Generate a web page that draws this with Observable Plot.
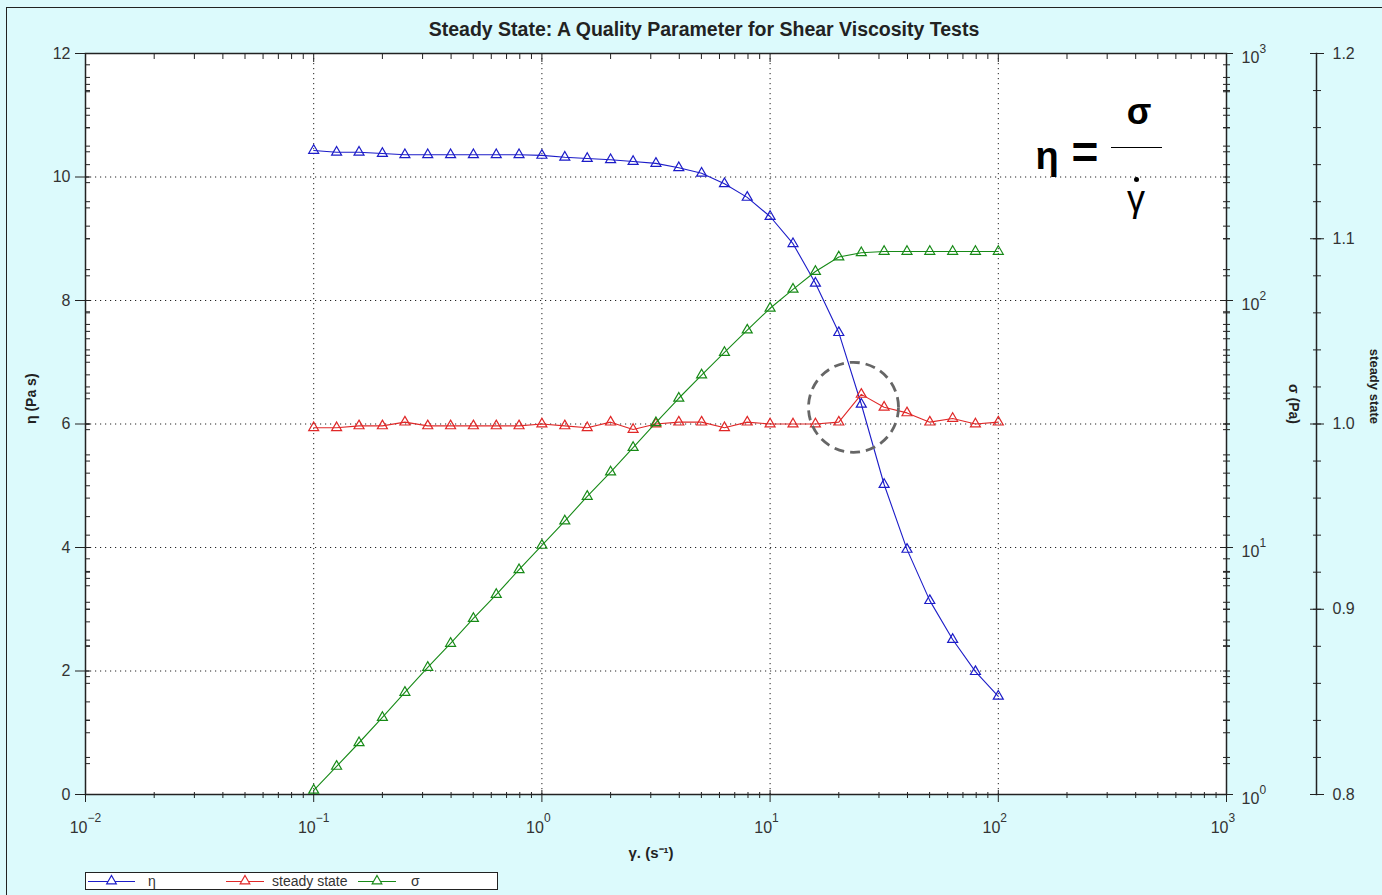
<!DOCTYPE html>
<html><head><meta charset="utf-8">
<script src="https://cdn.jsdelivr.net/npm/d3@7"></script>
<script src="https://cdn.jsdelivr.net/npm/@observablehq/plot@0.6"></script>
<style>
body{margin:0;background:#dcfafc;overflow:hidden;}
#wrap{position:relative;width:1382px;height:895px;overflow:hidden;background:#dcfafc;}
#border{position:absolute;left:6px;top:7px;width:1400px;height:900px;border:1.5px solid #222;pointer-events:none;}
#legend{position:absolute;left:85px;top:872px;width:411px;height:16px;background:#fff;border:1px solid #222;font:14px "Liberation Sans",Arial,sans-serif;color:#333;}
#legend .it{position:absolute;top:0;height:16px;line-height:16px;}
#legend svg{position:absolute;top:0;}
.fx{position:absolute;transform:translate(-50%,-50%);font-family:"Liberation Sans",Arial,sans-serif;color:#000;white-space:nowrap;}
#fbar{position:absolute;left:1111px;top:147px;width:51px;height:0;border-top:1.6px solid #000;}
#fdot{position:absolute;left:1134px;top:177px;width:5px;height:5px;border-radius:50%;background:#000;}
</style></head><body><div id="wrap"><div id="border"></div><div id="chart"></div>
<div id="legend"></div>
<div id="formula"></div></div>
<script>
// ---- data ----
const shearRate = [0.1, 0.126, 0.158, 0.2, 0.251, 0.316, 0.398, 0.501, 0.631, 0.794,
  1, 1.26, 1.58, 2, 2.51, 3.16, 3.98, 5.01, 6.31, 7.94,
  10, 12.6, 15.8, 20, 25.1, 31.6, 39.8, 50.1, 63.1, 79.4, 100];
const eta = [10.43, 10.40, 10.40, 10.38, 10.36, 10.36, 10.36, 10.36, 10.36, 10.36,
  10.35, 10.32, 10.30, 10.28, 10.25, 10.22, 10.15, 10.06, 9.89, 9.67,
  9.36, 8.92, 8.28, 7.48, 6.32, 5.02, 3.97, 3.14, 2.51, 1.99, 1.59];
const sigma = [1.04, 1.30, 1.62, 2.05, 2.59, 3.27, 4.09, 5.16, 6.45, 8.13,
  10.2, 12.8, 16.1, 20.2, 25.4, 32.0, 40.2, 49.9, 61.6, 75.9,
  93.0, 111, 131, 150, 156, 158, 158, 158, 158, 158, 158];
const steadyState = [0.998, 0.998, 0.999, 0.999, 1.001, 0.999, 0.999, 0.999, 0.999, 0.999,
  1.000, 0.999, 0.998, 1.001, 0.997, 1.000, 1.001, 1.001, 0.998, 1.001,
  1.000, 1.000, 1.000, 1.001, 1.016, 1.009, 1.006, 1.001, 1.003, 1.000, 1.001];
// annotation circle around the steady-state bump (x = shear rate, y = η units)
const highlight = [{rate: 23.2, eta: 6.27}];

// axis definitions
const xDomain = [0.01, 1000];
const xMajor = [0.01, 0.1, 1, 10, 100, 1000];
const xGrid = [0.1, 1, 10, 100];
const etaDomain = [0, 12];
const etaMajor = [0, 2, 4, 6, 8, 10, 12];
const etaGrid = [2, 4, 6, 8, 10];
const sigmaDomain = [1, 1000];
const sigmaMajor = [1, 10, 100, 1000];
const ssDomain = [0.8, 1.2];
const ssMajor = [0.8, 0.9, 1.0, 1.1, 1.2];

const colors = {eta: "#1c1cc8", ss: "#e02828", sigma: "#178a17"};

// ---- secondary-axis mappings into the η (left) coordinate space ----
const sigmaToY = s => etaDomain[1] * Math.log10(s / sigmaDomain[0]) / Math.log10(sigmaDomain[1] / sigmaDomain[0]);
const ssToY = s => etaDomain[1] * (s - ssDomain[0]) / (ssDomain[1] - ssDomain[0]);

const rows = shearRate.map((r, i) => ({rate: r, eta: eta[i], sigma: sigma[i], ss: steadyState[i]}));

const xMinor = [];
for (const d of [0.01, 0.1, 1, 10, 100]) for (let k = 2; k <= 9; k++) xMinor.push(d * k);
const sigmaMinor = [];
for (const d of [1, 10, 100]) for (let k = 2; k <= 9; k++) sigmaMinor.push(sigmaToY(d * k));
const etaMinor = d3.range(0, 12.001, 0.5);
const ssTicks = d3.range(0, 21).map(i => ssToY(0.8 + i * 0.02));
const innerMinor = [...etaMinor, ...sigmaMinor, ...ssTicks];

const exponent = v => String(Math.round(Math.log10(v))).replace("-", "\u2212");

const dotted = {stroke: "#222", strokeWidth: 1, strokeDasharray: "1.2,3.8"};
const none = () => "";
const font = "'Liberation Sans', Arial, sans-serif";
const tickText = {fill: "#333", fontSize: 16, lineAnchor: "middle"};
const supText = {fill: "#333", fontSize: 12, lineAnchor: "middle", textAnchor: "start"};

const series = [
  {key: "eta", y: d => d.eta, color: colors.eta},
  {key: "ss", y: d => ssToY(d.ss), color: colors.ss},
  {key: "sigma", y: d => sigmaToY(d.sigma), color: colors.sigma}
];

const chart = Plot.plot({
  width: 1382, height: 895,
  marginLeft: 85, marginRight: 156, marginTop: 53, marginBottom: 101,
  x: {type: "log", domain: xDomain},
  y: {domain: etaDomain},
  style: {background: "transparent", fontFamily: font, color: "#333", overflow: "visible"},
  marks: [
    Plot.frame({fill: "white", stroke: null}),
    Plot.ruleX(xGrid, dotted),
    Plot.ruleY(etaGrid, dotted),
    // bottom x axis
    Plot.axisX(xMajor, {anchor: "bottom", tickSize: 12, dy: -4, tickFormat: none, label: null, stroke: "#222"}),
    Plot.axisX(xMinor, {anchor: "bottom", tickSize: 6, dy: -2, tickFormat: none, label: null, stroke: "#222"}),
    Plot.text(xMajor, {x: d => d, frameAnchor: "bottom", text: () => "10", textAnchor: "end", dx: 2, dy: 33, ...tickText}),
    Plot.text(xMajor, {x: d => d, frameAnchor: "bottom", text: exponent, dx: 2, dy: 24, ...supText}),
    // top x axis (inward ticks)
    Plot.axisX(xMajor, {anchor: "top", tickSize: 8, dy: 8, tickFormat: none, label: null, stroke: "#222"}),
    Plot.axisX(xMinor, {anchor: "top", tickSize: 5, dy: 5, tickFormat: none, label: null, stroke: "#222"}),
    // left η axis
    Plot.axisY(etaMajor, {anchor: "left", tickSize: 14, dx: 4, tickFormat: none, label: null, stroke: "#222"}),
    Plot.axisY(innerMinor, {anchor: "left", tickSize: 5, dx: 5, tickFormat: none, label: null, stroke: "#222"}),
    Plot.axisY(etaMajor, {anchor: "left", tickSize: 0, tickPadding: 15, fontSize: 16, label: null, tickFormat: d => String(d)}),
    // right σ axis (log)
    Plot.axisY(sigmaMajor.map(sigmaToY), {anchor: "right", tickSize: 12, dx: -6, tickFormat: none, label: null, stroke: "#222"}),
    Plot.axisY(innerMinor, {anchor: "right", tickSize: 7, dx: -4, tickFormat: none, label: null, stroke: "#222"}),
    Plot.text(sigmaMajor, {y: sigmaToY, frameAnchor: "right", text: () => "10", textAnchor: "start", dx: 15, dy: 4, ...tickText}),
    Plot.text(sigmaMajor, {y: sigmaToY, frameAnchor: "right", text: exponent, dx: 33, dy: -4, ...supText}),
    // steady state axis (offset to the right)
    Plot.frame({anchor: "right", dx: 90, stroke: "#222", strokeWidth: 1.5}),
    Plot.axisY(ssTicks, {anchor: "right", tickSize: 8, dx: 86, tickFormat: none, label: null, stroke: "#222"}),
    Plot.axisY(ssMajor.map(ssToY), {anchor: "right", tickSize: 14, dx: 83, tickFormat: none, label: null, stroke: "#222"}),
    Plot.axisY(ssMajor.map(ssToY), {anchor: "right", tickSize: 0, dx: 90, tickPadding: 16, fontSize: 16, label: null,
      tickFormat: v => (ssDomain[0] + v / etaDomain[1] * (ssDomain[1] - ssDomain[0])).toFixed(1)}),
    Plot.frame({stroke: "#222", strokeWidth: 1.5}),
    // data series
    ...series.flatMap(s => [
      Plot.line(rows, {x: "rate", y: s.y, stroke: s.color, strokeWidth: 1.1}),
      Plot.dot(rows, {x: "rate", y: s.y, symbol: "triangle", r: 3.7, stroke: s.color, strokeWidth: 1.2, fill: "none"})
    ]),
    // highlight circle
    Plot.dot(highlight, {x: "rate", y: "eta", r: 45, stroke: "#666", strokeWidth: 2.8, strokeDasharray: "10,6", fill: "none"}),
    // titles & labels
    Plot.text(["Steady State: A Quality Parameter for Shear Viscosity Tests"], {frameAnchor: "top", lineAnchor: "middle", dx: 48, dy: -24, fontSize: 19.5, fontWeight: "bold", fill: "#222"}),
    Plot.text(["η (Pa s)"], {frameAnchor: "left", dx: -54, rotate: -90, fontSize: 14, fontWeight: "bold", fill: "#222"}),
    Plot.text(["σ (Pa)"], {frameAnchor: "right", dx: 67, rotate: 90, fontSize: 14, fontWeight: "bold", fill: "#222"}),
    Plot.text(["steady state"], {frameAnchor: "right", dx: 148, rotate: 90, fontSize: 13, fontWeight: "bold", fill: "#222"}),
    Plot.text(["γ. (s⁻¹)"], {frameAnchor: "bottom", lineAnchor: "middle", dx: -5, dy: 59, fontSize: 15, fontWeight: "bold", fill: "#222"})
  ]
});
document.getElementById("chart").appendChild(chart);

// ---- formula annotation η = σ / γ̇ ----
const formulaGlyphs = [
  {t: "η", x: 1047, y: 156, w: "bold", s: 38},
  {t: "=", x: 1085, y: 152, w: "bold", s: 46},
  {t: "σ", x: 1139, y: 112, w: "bold", s: 36},
  {t: "γ", x: 1136, y: 199, w: "normal", s: 36}
];
const fm = document.getElementById("formula");
for (const g of formulaGlyphs) {
  const el = document.createElement("div");
  el.className = "fx"; el.textContent = g.t;
  el.style.left = g.x + "px"; el.style.top = g.y + "px"; el.style.fontWeight = g.w;
  el.style.fontSize = g.s + "px"; el.style.lineHeight = g.s + "px";
  fm.appendChild(el);
}
const bar = document.createElement("div"); bar.id = "fbar"; fm.appendChild(bar);
const dot = document.createElement("div"); dot.id = "fdot"; fm.appendChild(dot);

// ---- legend (HTML, below the plot inside the figure frame) ----
const legendItems = [
  {label: "η", color: colors.eta, sx: 2, sw: 47, tx: 62},
  {label: "steady state", color: colors.ss, sx: 140, sw: 38, tx: 186},
  {label: "σ", color: colors.sigma, sx: 272, sw: 38, tx: 325}
];
const leg = document.getElementById("legend");
for (const it of legendItems) {
  const sw = d3.create("svg").attr("width", it.sw).attr("height", 16).style("left", it.sx + "px");
  sw.append("line").attr("x1", 0).attr("x2", it.sw).attr("y1", 8.5).attr("y2", 8.5).attr("stroke", it.color).attr("stroke-width", 1.1);
  sw.append("path").attr("d", d3.symbol(d3.symbolTriangle, 40)()).attr("transform", `translate(${it.sw / 2},8)`).attr("fill", "white").attr("stroke", it.color).attr("stroke-width", 1.2);
  leg.appendChild(sw.node());
  const t = document.createElement("div");
  t.className = "it"; t.style.left = it.tx + "px"; t.textContent = it.label;
  leg.appendChild(t);
}
</script></body></html>
